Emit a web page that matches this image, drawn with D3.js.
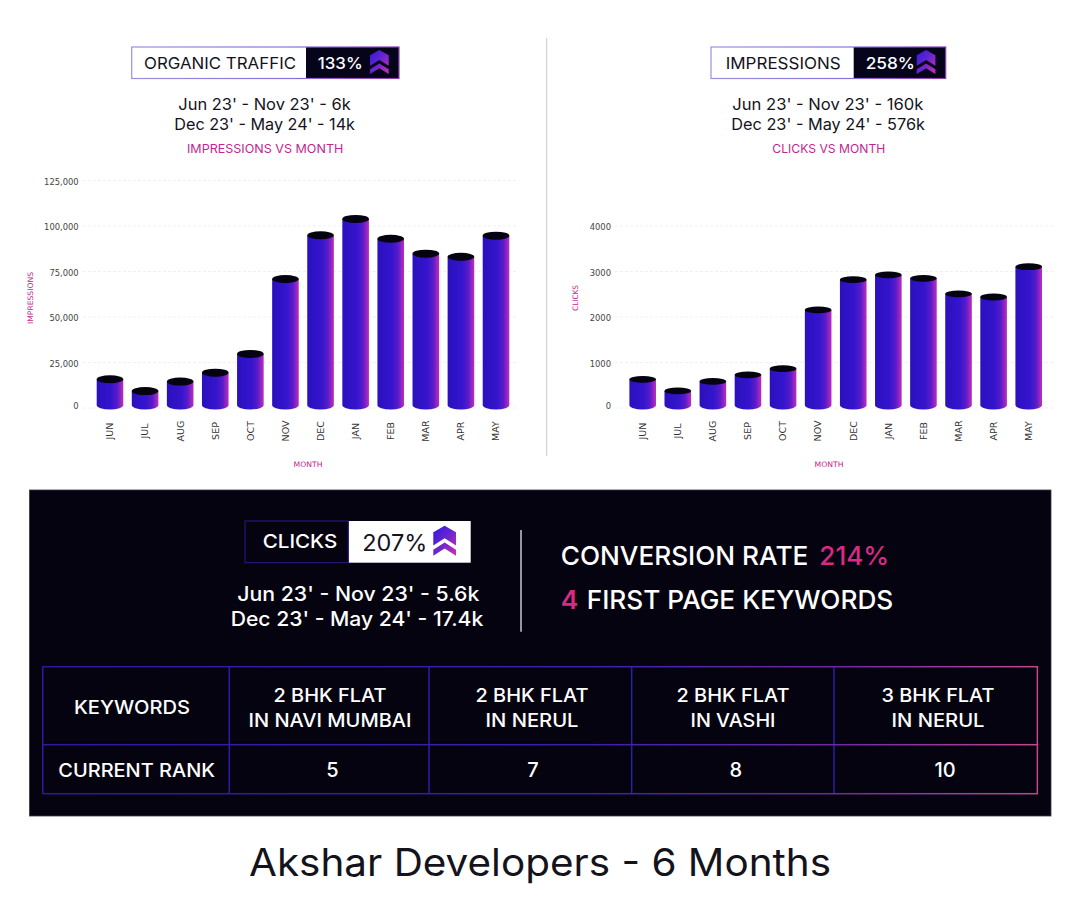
<!DOCTYPE html>
<html>
<head>
<meta charset="utf-8">
<script src="https://cdn.jsdelivr.net/npm/d3@7"></script>
<style>
  html, body { margin: 0; padding: 0; background: #fff; }
  svg { display: block; }
  text { font-family: "Inter", "DejaVu Sans", sans-serif; }
  .tick-label text, .small { font-family: "DejaVu Sans", sans-serif; }
</style>
</head>
<body>
<div id="chart"></div>
<script>
// data
const months = ['JUN', 'JUL', 'AUG', 'SEP', 'OCT', 'NOV', 'DEC', 'JAN', 'FEB', 'MAR', 'APR', 'MAY'];
const impressions = [15800, 9300, 14500, 19400, 29700, 70900, 94900, 103900, 93000, 84800, 83100, 94700];
const clicks = [630, 375, 585, 730, 865, 2155, 2820, 2925, 2850, 2510, 2440, 3105];
const impressionTicks = [0, 25000, 50000, 75000, 100000, 125000];
const clickTicks = [0, 1000, 2000, 3000, 4000];
const keywords = [['2 BHK FLAT', 'IN NAVI MUMBAI'], ['2 BHK FLAT', 'IN NERUL'], ['2 BHK FLAT', 'IN VASHI'], ['3 BHK FLAT', 'IN NERUL']];
const ranks = [5, 7, 8, 10];

const PINK = '#c2278f';
const DARK = '#04030f';

const svg = d3.select('#chart').append('svg').attr('width', 1080).attr('height', 914);
const defs = svg.append('defs');

function addGradient(id, attrs, stops) {
    const g = defs.append('linearGradient').attr('id', id);
    Object.keys(attrs).forEach(k => g.attr(k, attrs[k]));
    stops.forEach(s => g.append('stop').attr('offset', s[0]).attr('stop-color', s[1]));
}
addGradient('barFill', {x1: 0, x2: 1, y1: 0, y2: 0},
    [[0, '#2a10bd'], [0.55, '#3515cd'], [0.78, '#5a1bc9'], [0.94, '#a428c2'], [1, '#bd2cb8']]);
addGradient('iconFill', {gradientUnits: 'userSpaceOnUse', x1: 0, x2: 100, y1: 0, y2: 100},
    [[0, '#2f18e0'], [0.5, '#6a25cf'], [1, '#d030b0']]);
addGradient('tableLine', {gradientUnits: 'userSpaceOnUse', x1: 43, x2: 1037, y1: 0, y2: 0},
    [[0, '#2a1a9e'], [0.55, '#3c20a8'], [0.8, '#6d2aa6'], [1, '#c4468f']]);
addGradient('boxLine', {x1: 0, x2: 1, y1: 0, y2: 0}, [[0, '#9c8fe0'], [0.6, '#8a6fd8'], [1, '#8a3fb0']]);

// text squeezed between two measured x positions
function label(parent, str, x0, x1, y, size, fill, weight) {
    return parent.append('text')
        .attr('x', x0)
        .attr('y', y)
        .attr('textLength', x1 - x0)
        .attr('lengthAdjust', 'spacingAndGlyphs')
        .attr('font-size', size)
        .attr('font-weight', weight || 400)
        .attr('fill', fill)
        .text(str);
}

function upArrow(parent, x, y, w, h) {
    const g = parent.append('g').attr('transform', `translate(${x},${y}) scale(${w / 100},${h / 100})`);
    g.append('path')
        .attr('d', 'M50 0 L100 22 L100 66 L50 42 L0 66 L0 22 Z')
        .attr('fill', 'url(#iconFill)');
    g.append('path')
        .attr('d', 'M50 56 L100 80 L100 100 L50 76 L0 100 L0 80 Z')
        .attr('fill', 'url(#iconFill)');
}

// one cylinder chart
function cylinderChart(opt) {
    const g = svg.append('g');
    const x = d3.scaleBand().domain(months).range(opt.xRange).paddingInner(0.242).paddingOuter(0.242);
    const y = d3.scaleLinear().domain(opt.yDomain).range([408, opt.yTop]);

    const yAxis = d3.axisLeft(y).tickValues(opt.ticks).tickSize(0).tickPadding(0).tickFormat(d3.format(opt.format));
    const yg = g.append('g').attr('class', 'tick-label').attr('transform', `translate(${opt.labelX},0)`).call(yAxis);
    yg.select('.domain').remove();
    yg.selectAll('text').attr('font-size', 8.4).attr('fill', '#444').attr('dy', '0.32em')
        .attr('transform', d => `translate(0,${d === 0 ? -2 : 1})`);

    g.selectAll('.grid').data(opt.ticks).enter().append('line')
        .attr('class', 'grid')
        .attr('x1', opt.gridX[0]).attr('x2', opt.gridX[1])
        .attr('y1', d => y(d)).attr('y2', d => y(d))
        .attr('stroke', '#ececec').attr('stroke-width', 0.8).attr('stroke-dasharray', '3 2');

    const xAxis = d3.axisBottom(x).tickSize(0).tickPadding(0);
    const xg = g.append('g').attr('class', 'tick-label').attr('transform', 'translate(0,431)').call(xAxis);
    xg.select('.domain').remove();
    xg.selectAll('text')
        .attr('font-size', 9.5).attr('fill', '#333')
        .attr('y', 0).attr('dy', '0.35em')
        .attr('text-anchor', 'middle')
        .attr('transform', 'rotate(-90)');

    const w = x.bandwidth();
    const bars = g.selectAll('.bar').data(months).enter().append('g').attr('class', 'bar');
    bars.append('path')
        .attr('fill', 'url(#barFill)')
        .attr('d', (d, i) => {
            const left = x(d), top = y(opt.values[i]), bottom = y(0) - 3;
            return `M${left} ${top} L${left} ${bottom} A${w / 2} 4.5 0 0 0 ${left + w} ${bottom} L${left + w} ${top} Z`;
        });
    bars.append('ellipse')
        .attr('cx', d => x(d) + w / 2)
        .attr('cy', (d, i) => y(opt.values[i]))
        .attr('rx', w / 2)
        .attr('ry', opt.capRy)
        .attr('fill', DARK);
}

// top charts
cylinderChart({values: impressions, ticks: impressionTicks, yDomain: [0, 125000], yTop: 180.5, format: ',',
    xRange: [88.2, 517.8], gridX: [83, 518], labelX: 78.7, capRy: 4});
cylinderChart({values: clicks, ticks: clickTicks, yDomain: [0, 4000], yTop: 226, format: 'd',
    xRange: [620.9, 1050.5], gridX: [615, 1053], labelX: 611, capRy: 3.4});

// axis titles
function axisTitle(str, cx, cy, len, rotated) {
    svg.append('text')
        .attr('class', 'small')
        .attr('transform', `translate(${cx},${cy})` + (rotated ? ' rotate(-90)' : ''))
        .attr('text-anchor', 'middle')
        .attr('dy', '0.35em')
        .attr('textLength', len)
        .attr('lengthAdjust', 'spacingAndGlyphs')
        .attr('font-size', 7.5)
        .attr('fill', PINK)
        .text(str);
}
axisTitle('IMPRESSIONS', 30, 298, 52, true);
axisTitle('CLICKS', 575, 298, 26, true);
axisTitle('MONTH', 308, 464, 29, false);
axisTitle('MONTH', 829, 464, 29, false);

// header of the two charts
function header(x0, xSplit, x1, name, nameX, pct, pctX, iconX) {
    svg.append('rect').attr('x', xSplit).attr('y', 47).attr('width', x1 - xSplit).attr('height', 31.5)
        .attr('fill', '#06041a');
    svg.append('rect').attr('x', x0).attr('y', 47).attr('width', x1 - x0).attr('height', 31.5)
        .attr('fill', 'none').attr('stroke', 'url(#boxLine)').attr('stroke-width', 1.2);
    label(svg, name, nameX[0], nameX[1], 68.5, 16.5, '#14131c');
    label(svg, pct, pctX[0], pctX[1], 68.5, 16.5, '#fff', 500);
    upArrow(svg, iconX, 50, 18.7, 24);
}
header(131.7, 306, 399, 'ORGANIC TRAFFIC', [144, 296], '133%', [317.7, 362.7], 370);
header(711, 853.7, 945.7, 'IMPRESSIONS', [725.7, 840.7], '258%', [865.7, 915], 916.7);

label(svg, "Jun 23' - Nov 23' - 6k", 178.3, 350.7, 110, 16, '#14131c');
label(svg, "Dec 23' - May 24' - 14k", 174.3, 355, 130, 16, '#14131c');
label(svg, 'IMPRESSIONS VS MONTH', 187, 343.3, 153.3, 12, PINK);
label(svg, "Jun 23' - Nov 23' - 160k", 732.3, 923.3, 110, 16, '#14131c');
label(svg, "Dec 23' - May 24' - 576k", 731.3, 925, 130, 16, '#14131c');
label(svg, 'CLICKS VS MONTH', 772.3, 885.3, 153.3, 12, PINK);

svg.append('line').attr('x1', 546.7).attr('x2', 546.7).attr('y1', 38).attr('y2', 456)
    .attr('stroke', '#c9c9d2').attr('stroke-width', 1);

// dark panel
svg.append('rect').attr('x', 29.5).attr('y', 490).attr('width', 1021.5).attr('height', 326)
    .attr('fill', DARK).attr('stroke', '#3a3a44').attr('stroke-width', 0.8);

svg.append('rect').attr('x', 348.3).attr('y', 521).attr('width', 122.4).attr('height', 41.7).attr('fill', '#fff');
svg.append('rect').attr('x', 245).attr('y', 521).attr('width', 103.3).attr('height', 41.7)
    .attr('fill', 'none').attr('stroke', '#24177e').attr('stroke-width', 1.2);
label(svg, 'CLICKS', 262.7, 337.3, 548.3, 19, '#fff', 500);
label(svg, '207%', 362.3, 427.3, 550.7, 23, '#14131c');
upArrow(svg, 433.3, 525.7, 22.7, 30);

label(svg, "Jun 23' - Nov 23' - 5.6k", 237.3, 479.3, 600.7, 20, '#fff', 500);
label(svg, "Dec 23' - May 24' - 17.4k", 230.7, 483.3, 626, 20, '#fff', 500);

svg.append('line').attr('x1', 521).attr('x2', 521).attr('y1', 530).attr('y2', 631.7)
    .attr('stroke', '#c9c9d2').attr('stroke-width', 1.5);

label(svg, 'CONVERSION RATE', 560.7, 808.3, 565, 26, '#fff', 500);
label(svg, '214%', 819.3, 889.3, 565, 26, '#d62a86', 500);
label(svg, '4', 560.7, 578.3, 609, 26, '#d62a86', 600);
label(svg, 'FIRST PAGE KEYWORDS', 586.7, 893.3, 609, 26, '#fff', 500);

// keyword table
const tableX = [42.7, 229.3, 429, 631.7, 834, 1037.3];
const tableY = [666.7, 744.7, 793.7];
const columnMid = [330, 532, 733, 938];
const rankMid = [332.5, 533, 735.7, 945];

tableX.slice(0, 5).forEach(v => {
    svg.append('line').attr('x1', v).attr('x2', v).attr('y1', tableY[0]).attr('y2', tableY[2])
        .attr('stroke', '#2f1ca8').attr('stroke-width', 1.5);
});
svg.append('rect').attr('x', 1036.6).attr('y', tableY[0]).attr('width', 1.5).attr('height', tableY[2] - tableY[0])
    .attr('fill', '#c4468f');
tableY.forEach(v => {
    svg.append('rect').attr('x', tableX[0]).attr('y', v - 0.75).attr('width', tableX[5] - tableX[0] + 0.8).attr('height', 1.5)
        .attr('fill', 'url(#tableLine)');
});

label(svg, 'KEYWORDS', 74, 190, 714, 19, '#fff', 500);
label(svg, 'CURRENT RANK', 58.3, 215, 776.7, 19, '#fff', 500);

const cellWidths = {'2 BHK FLAT': 113, '3 BHK FLAT': 113, 'IN NAVI MUMBAI': 163, 'IN NERUL': 93, 'IN VASHI': 85};
keywords.forEach((lines, i) => {
    lines.forEach((line, j) => {
        const half = cellWidths[line] / 2;
        label(svg, line, columnMid[i] - half, columnMid[i] + half, j === 0 ? 702.3 : 727, 19, '#fff', 500);
    });
});
ranks.forEach((r, i) => {
    svg.append('text').attr('x', rankMid[i]).attr('y', 776.7).attr('text-anchor', 'middle')
        .attr('font-size', 20).attr('font-weight', 500).attr('fill', '#fff').text(r);
});

// footer
label(svg, 'Akshar Developers - 6 Months', 249, 831, 876, 38, '#14131c');
</script>
</body>
</html>
